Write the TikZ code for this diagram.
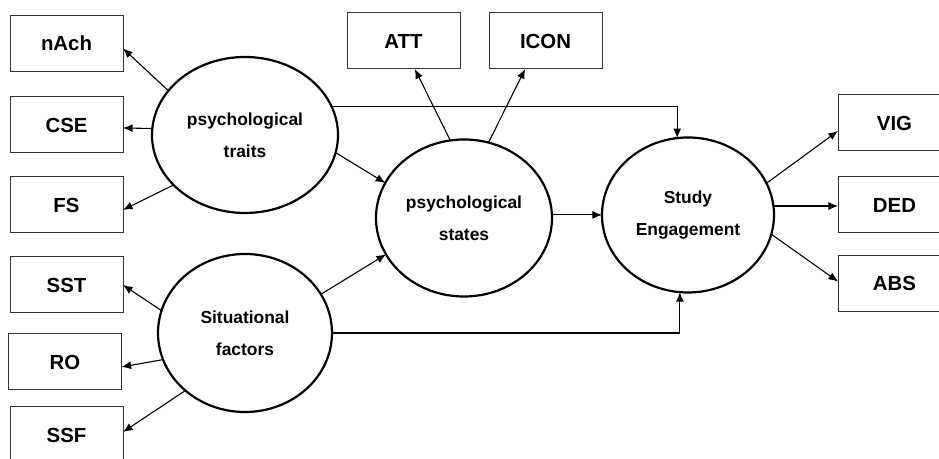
\documentclass[tikz,border=0pt]{standalone}
\usepackage{fontspec}
\setmainfont{Liberation Sans}
\usetikzlibrary{shapes.geometric,arrows.meta}

\tikzset{
  box/.style={draw=black!80, line width=0.5pt, minimum width=56.5pt, minimum height=28pt,
    inner sep=0pt, outer sep=0pt, font=\fontsize{10.2}{12}\selectfont\bfseries},
  latent/.style={ellipse, draw, line width=1.1pt, inner sep=0pt, outer sep=0pt,
    align=center, font=\fontsize{8.7}{16}\selectfont\bfseries},
  arr/.style={-{Latex[length=4.8pt,width=4pt]}, line width=0.55pt}
}

\begin{document}
\begin{tikzpicture}[x=0.5pt,y=-0.5pt]
\clip (0,0) rectangle (939,459);

\node[box] (nAch) at (66.5,43.5) {nAch};
\node[box] (CSE) at (66.5,125) {CSE};
\node[box] (FS) at (66.5,205) {FS};
\node[box] (SST) at (66.5,285) {SST};
\node[box] (RO) at (65,362) {RO};
\node[box] (SSF) at (66.5,435) {SSF};
\node[box] (ATT) at (403.5,41) {ATT};
\node[box] (ICON) at (545.5,41) {ICON};
\node[box] (VIG) at (894.5,123) {VIG};
\node[box] (DED) at (894.5,205) {DED};
\node[box] (ABS) at (894.5,283.5) {ABS};

\node[latent, minimum width=93pt, minimum height=78pt] (traits) at (245,135) {psychological\\traits};
\node[latent, minimum width=87pt, minimum height=79pt] (situ) at (245,333) {Situational\\factors};
\node[latent, minimum width=88pt, minimum height=78.5pt] (states) at (464,218) {psychological\\states};
\node[latent, minimum width=86pt, minimum height=77.5pt] (engage) at (688,215) {Study\\Engagement};

\draw[arr] (traits.150) -- (nAch.-5);
\draw[arr] (traits.176) -- (CSE.-3);
\draw[arr] (traits.215) -- (FS.-5);
\draw[arr] (traits.-11) -- (states.156);
\draw[arr] (traits.18) -| (engage.98);

\draw[arr] (situ.165) -- (SST.east);
\draw[arr] (situ.198) -- (RO.-5);
\draw[arr] (situ.224) -- (SSF.3);
\draw[arr] (situ.27) -- (states.205);
\draw[arr] (situ.east) -| (engage.-96);

\draw[arr] (states.100) -- (ATT.-68);
\draw[arr] (states.72) -- (ICON.234);
\draw[arr] (states.2) -- (states.2 -| engage.west);

\draw[arr] (engage.22) -- (VIG.188);
\draw[arr] (engage.6) -- (engage.6 -| DED.west);
\draw[arr] (engage.-13) -- (ABS.178);
\end{tikzpicture}
\end{document}
